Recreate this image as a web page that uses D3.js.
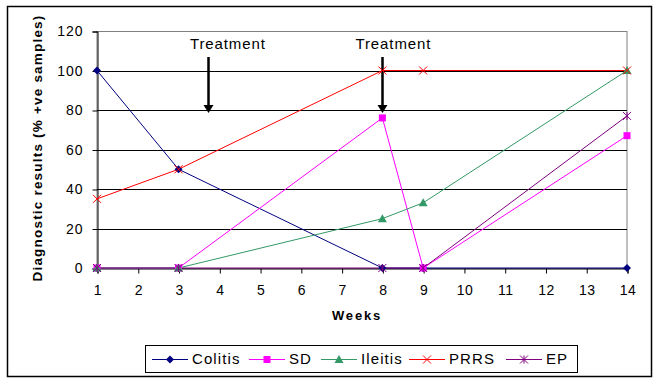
<!DOCTYPE html>
<html><head><meta charset="utf-8">
<script src="https://cdn.jsdelivr.net/npm/d3@7"></script>
<style>
html,body{margin:0;padding:0;background:#fff;}
svg text{font-family:"Liberation Sans",Arial,sans-serif;}
</style></head>
<body>
<svg id="chart" width="660" height="384"></svg>
<script>
const weeks = [1, 3, 8, 9, 14];
const colitis = [100, 50, 0, 0, 0];
const sd = [0, 0, 76, 0, 67];
const ileitis = [0, 0, 25, 33, 100];
const prrs = [35, 50, 100, 100, 100];
const ep = [0, 0, 0, 0, 77];
const seriesNames = ["Colitis", "SD", "Ileitis", "PRRS", "EP"];
const seriesColors = ["#000080", "#FF00FF", "#339966", "#FF0000", "#800080"];
const seriesMarkers = ["diamond", "square", "triangle", "x", "star"];
const xTicks = [1,2,3,4,5,6,7,8,9,10,11,12,13,14];
const yTicks = [0,20,40,60,80,100,120];
const treatmentArrowWeeks = [3.72, 8];
const treatmentTextWeeks = [4.21, 8.27];
const treatmentLabel = "Treatment";

const svg = d3.select("#chart");
const x = d3.scaleLinear().domain([1,14]).range([97,627]);
const y = d3.scaleLinear().domain([0,120]).range([268,31]);

// outer border
svg.append("rect").attr("x",7.5).attr("y",6.5).attr("width",644).attr("height",370)
  .attr("fill","#fff").attr("stroke","#000").attr("stroke-width",1.5);

// plot area border (gray)
svg.append("rect").attr("x",x(1)).attr("y",y(120)+0.5).attr("width",x(14)-x(1)).attr("height",y(0)-y(120))
  .attr("fill","none").attr("stroke","#808080").attr("stroke-width",1);

// gridlines
svg.append("g").selectAll("line").data(yTicks.filter(d=>d>0&&d<120)).join("line")
  .attr("x1",x(1)).attr("x2",x(14)).attr("y1",d=>Math.round(y(d))+0.5).attr("y2",d=>Math.round(y(d))+0.5)
  .attr("stroke","#000").attr("stroke-width",1);

// y axis
const yAxis = d3.axisLeft(y).tickValues(yTicks).tickSize(5).tickPadding(9);
const gy = svg.append("g").attr("transform",`translate(${x(1)+0.5},0.5)`).call(yAxis);
gy.select(".domain").attr("stroke","#000");
gy.selectAll(".tick line").attr("stroke","#000");
gy.selectAll("text").attr("font-size",14).attr("letter-spacing","1px").attr("fill","#000")
  .attr("font-family","Liberation Sans, Arial, sans-serif");

// x axis
const xAxis = d3.axisBottom(x).tickValues(xTicks).tickSize(5).tickPadding(12).tickFormat(d3.format("d"));
const gx = svg.append("g").attr("transform",`translate(0.5,${Math.round(y(0))+0.5})`).call(xAxis);
gx.select(".domain").attr("stroke","#000");
gx.selectAll(".tick line").attr("stroke","#000");
gx.selectAll("text").attr("font-size",14).attr("letter-spacing","0.5px").attr("fill","#000")
  .attr("font-family","Liberation Sans, Arial, sans-serif");

// axis titles
svg.append("text").attr("x",357).attr("y",320).attr("text-anchor","middle")
  .attr("font-size",13).attr("font-weight","bold").attr("letter-spacing","1.8px").text("Weeks");
svg.append("text").attr("transform","translate(42,148) rotate(-90)").attr("text-anchor","middle")
  .attr("font-size",13.5).attr("font-weight","bold").attr("letter-spacing","1.2px")
  .text("Diagnostic results (% +ve samples)");

// treatment annotations
treatmentArrowWeeks.forEach((w,i)=>{
  const ax = Math.round(x(w))+0.5;
  svg.append("text").attr("x",x(treatmentTextWeeks[i])).attr("y",49).attr("text-anchor","middle")
    .attr("font-size",15).attr("letter-spacing","0.9px").text(treatmentLabel);
  svg.append("line").attr("x1",ax).attr("x2",ax).attr("y1",57).attr("y2",106)
    .attr("stroke","#000").attr("stroke-width",2.5);
  svg.append("path").attr("d",`M${ax-5},105 L${ax+5},105 L${ax},113 Z`).attr("fill","#000");
});

const series = [colitis, sd, ileitis, prrs, ep];
const line = d3.line().x(d=>x(d[0])).y(d=>y(d[1]));

function drawMarker(g, type, cx, cy, color){
  if(type==="diamond"){
    g.append("path").attr("d",`M${cx},${cy-4} L${cx+4},${cy} L${cx},${cy+4} L${cx-4},${cy} Z`).attr("fill",color);
  } else if(type==="square"){
    g.append("rect").attr("x",cx-3.5).attr("y",cy-3.5).attr("width",7).attr("height",7).attr("fill",color);
  } else if(type==="triangle"){
    g.append("path").attr("d",`M${cx},${cy-4.5} L${cx+4.5},${cy+3.5} L${cx-4.5},${cy+3.5} Z`).attr("fill",color);
  } else if(type==="x"){
    g.append("path").attr("d",`M${cx-4},${cy-4} L${cx+4},${cy+4} M${cx-4},${cy+4} L${cx+4},${cy-4}`).attr("stroke",color).attr("stroke-width",1);
  } else if(type==="star"){
    g.append("path").attr("d",`M${cx-4},${cy-4} L${cx+4},${cy+4} M${cx-4},${cy+4} L${cx+4},${cy-4} M${cx},${cy-4} L${cx},${cy+4}`).attr("stroke",color).attr("stroke-width",1);
  }
}

const gs = svg.append("g");
series.forEach((vals,i)=>{
  const pts = weeks.map((w,j)=>[w,vals[j]]);
  gs.append("path").datum(pts).attr("d",line).attr("fill","none").attr("stroke",seriesColors[i]).attr("stroke-width",1);
});
series.forEach((vals,i)=>{
  const g = gs.append("g");
  weeks.forEach((w,j)=>drawMarker(g, seriesMarkers[i], x(w), y(vals[j]), seriesColors[i]));
});

// legend
const lg = svg.append("g");
lg.append("rect").attr("x",145.5).attr("y",345.5).attr("width",432).attr("height",27)
  .attr("fill","#fff").attr("stroke","#000").attr("stroke-width",1);
const legendX = [152, 249, 321, 409, 506];
seriesNames.forEach((n,i)=>{
  const lx = legendX[i], ly = 359.5;
  lg.append("line").attr("x1",lx).attr("x2",lx+36).attr("y1",ly).attr("y2",ly).attr("stroke",seriesColors[i]).attr("stroke-width",1);
  drawMarker(lg, seriesMarkers[i], lx+18, ly, seriesColors[i]);
  lg.append("text").attr("x",lx+40).attr("y",364).attr("font-size",15).attr("letter-spacing","1.1px").text(n);
});
</script>
</body></html>
